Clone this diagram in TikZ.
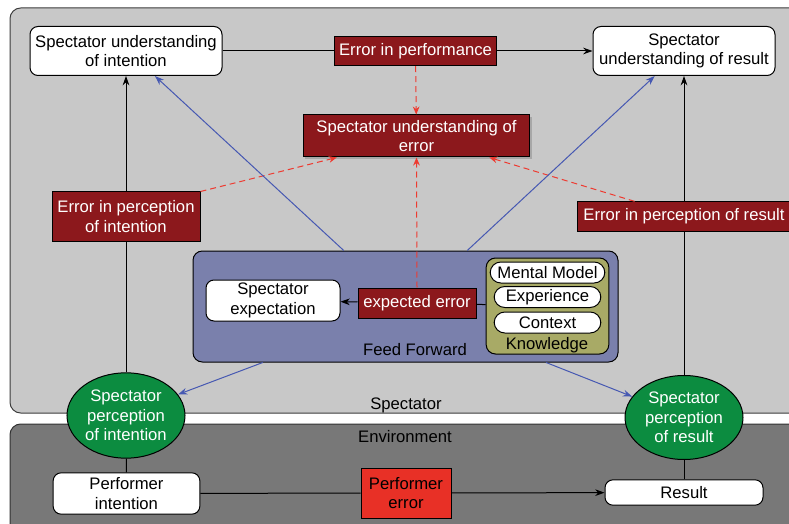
\documentclass[tikz,border=0pt]{standalone}
\usepackage{fontspec}
\setmainfont{Liberation Sans}
\usetikzlibrary{shapes.geometric,arrows.meta,shadows,calc}
\definecolor{errred}{RGB}{140,24,28}
\definecolor{perfred}{RGB}{232,48,38}
\definecolor{specgrey}{RGB}{200,200,200}
\definecolor{envgrey}{RGB}{120,120,120}
\definecolor{ffblue}{RGB}{122,128,172}
\definecolor{knolive}{RGB}{168,170,102}
\definecolor{percgreen}{RGB}{12,140,64}
\definecolor{linkblue}{RGB}{70,88,178}
\definecolor{dashred}{RGB}{238,58,48}
\tikzset{every picture/.style={line width=0.75pt}}
\tikzset{
whitebox/.style={draw, fill=white, rounded corners=6pt, align=center, inner sep=0pt},
errbox/.style={draw, fill=errred, text=white, align=center, inner sep=0pt},
percell/.style={ellipse, draw, fill=percgreen, text=white, align=center, inner sep=0pt},
dasharrow/.style={color=dashred, dash pattern=on 4.5pt off 3pt, -{Stealth[length=6pt,width=5pt]}},
bluearrow/.style={color=linkblue, -{Stealth[length=7pt,width=5pt]}},
blackarrow/.style={-{Stealth[length=7pt,width=5pt]}}
}

\begin{document}
\begin{tikzpicture}[x=0.75pt,y=0.75pt,yscale=-1,xscale=1,font=\fontsize{12.5}{14.5}\selectfont]
\useasboundingbox (0,0) rectangle (789,524);
\clip (0,0) rectangle (789,524);

%Shape: Spectator panel
\draw [draw={rgb,255:red,60;green,60;blue,60}, fill=specgrey, rounded corners=8pt] (10,8) rectangle (810,413);
%Shape: Environment panel
\draw [draw={rgb,255:red,50;green,50;blue,50}, fill=envgrey, rounded corners=8pt] (10,424) rectangle (810,540);
%Shape: Feed forward box
\node (ff) [draw, fill=ffblue, rounded corners=7pt, minimum width=318.75pt, minimum height=83.25pt] at (405.5,306.5) {};
%Shape: Knowledge box
\node (kn) [draw, fill=knolive, rounded corners=7pt, minimum width=92pt, minimum height=72pt] at (547.5,306) {};

% Text Node
\node (ffl) at (415,350) {Feed Forward};
\node (knl) at (547,345) {Knowledge};
\node (spl) at (406,405.5) {Spectator};
\node (envl) at (405,436.5) {Environment};

% Spectator nodes
\node (sui) [whitebox, minimum width=144pt, minimum height=36.75pt] at (126,51) {Spectator understanding\\of intention};
\node (eperf) [errbox, minimum width=122pt, minimum height=22pt] at (415.5,51) {Error in performance};
\node (sur) [whitebox, minimum width=136.5pt, minimum height=36.75pt] at (684,51) {Spectator\\understanding of result};
\node (sue) [errbox, drop shadow={opacity=0.45, shadow xshift=1.5pt, shadow yshift=-1.5pt}, minimum width=170pt, minimum height=31.5pt] at (416.5,136) {Spectator understanding of\\error};
\node (epi) [errbox, minimum width=111pt, minimum height=36.75pt] at (126,216.5) {Error in perception\\of intention};
\node (epr) [errbox, minimum width=160.5pt, minimum height=22pt] at (684,216.5) {Error in perception of result};

% Feed forward nodes
\node (se) [whitebox, minimum width=100.5pt, minimum height=30.75pt] at (273,300.5) {Spectator\\expectation};
\node (eerr) [errbox, minimum width=88.5pt, minimum height=22.5pt] at (417,303) {expected error};
\node (mm) [whitebox, rounded corners=8pt, minimum width=86pt, minimum height=15.75pt] at (547.5,272.5) {Mental Model};
\node (exp) [whitebox, rounded corners=8pt, minimum width=80pt, minimum height=15.75pt] at (547.5,297) {Experience};
\node (ctx) [whitebox, rounded corners=8pt, minimum width=80pt, minimum height=15.75pt] at (547.5,322.5) {Context};

% Perception nodes
\node (spi) [percell, minimum width=88.5pt, minimum height=64pt] at (126,415.5) {Spectator\\perception\\of intention};
\node (spr) [percell, minimum width=88.5pt, minimum height=63pt] at (684,417.5) {Spectator\\perception\\of result};

% Environment nodes
\node (pi) [whitebox, minimum width=110pt, minimum height=31pt] at (126.5,493.5) {Performer\\intention};
\node (perr) [draw, fill=perfred, align=center, inner sep=0pt, minimum width=67.5pt, minimum height=37.5pt] at (406,493) {Performer\\error};
\node (res) [whitebox, minimum width=118.5pt, minimum height=19pt] at (684,492.5) {Result};

% Black connectors
\draw (sui) -- (eperf);
\draw [blackarrow] (eperf) -- (sur);
\draw (spi) -- (epi);
\draw [blackarrow] (epi) -- (sui);
\draw (spr) -- (epr);
\draw [blackarrow] (epr) -- (sur);
\draw (pi) -- (spi);
\draw (res) -- (spr);
\draw (pi) -- (perr);
\draw [blackarrow] (perr) -- (res);
\draw (kn) -- (eerr);
\draw [blackarrow] (eerr) -- (se);

% Red dashed connectors
\draw [dasharrow] (eperf) -- (sue);
\draw [dasharrow] (eerr.north) -- ($(sue.south west)!0.5!(sue.south east)$);
\draw [dasharrow] (epi.north east) -- ($(sue.south west)!0.15!(sue.south east)$);
\draw [dasharrow] ($(epr.north west)!0.27!(epr.north east)$) -- ($(sue.south west)!0.82!(sue.south east)$);

% Blue connectors
\draw [bluearrow] ($(ff.north west)!0.355!(ff.north east)$) -- ($(sui.south west)!0.65!(sui.south east)$);
\draw [bluearrow] ($(ff.north west)!0.645!(ff.north east)$) -- ($(sur.south west)!0.34!(sur.south east)$);
\draw [bluearrow] ($(ff.south west)!0.165!(ff.south east)$) -- (spi.22);
\draw [bluearrow] ($(ff.south west)!0.83!(ff.south east)$) -- (spr.158);

\end{tikzpicture}
\end{document}
